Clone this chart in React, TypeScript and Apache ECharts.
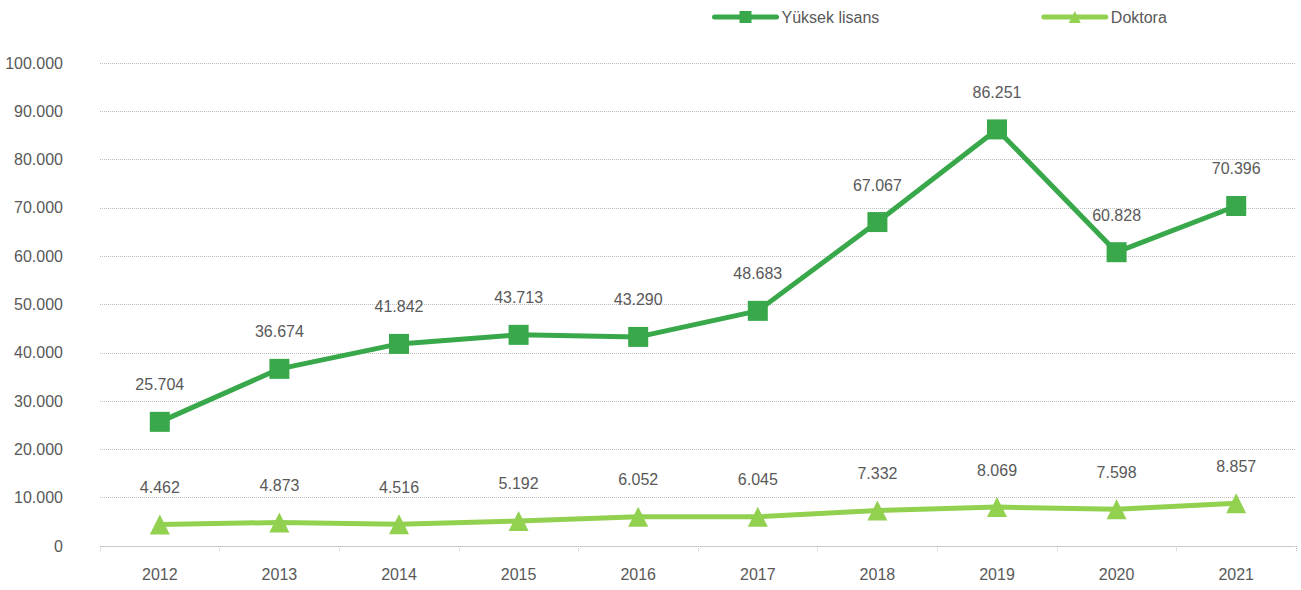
import React, { useEffect, useRef } from "react";
import * as echarts from "echarts";

const years = ["2012", "2013", "2014", "2015", "2016", "2017", "2018", "2019", "2020", "2021"];
const yuksekLisans = [25704, 36674, 41842, 43713, 43290, 48683, 67067, 86251, 60828, 70396];
const doktora = [4462, 4873, 4516, 5192, 6052, 6045, 7332, 8069, 7598, 8857];

const fmt = (v: number) => (v === 0 ? "0" : v.toLocaleString("de-DE"));
const FONT = "'Liberation Sans', Arial, sans-serif";
const TXT = "#595959";
const FS = 16;

export default function App() {
  const ref = useRef<HTMLDivElement>(null);
  useEffect(() => {
    const chart = echarts.init(ref.current!, null, { renderer: "svg" });
    chart.setOption({
      animation: false,
      textStyle: { fontFamily: FONT },
      legend: {
        left: 712,
        top: 9,
        padding: 0,
        itemWidth: 62,
        itemHeight: 15,
        itemGap: 162,
        lineStyle: { width: 5, cap: "round" },
        textStyle: { fontSize: FS, color: TXT, fontFamily: FONT },
        data: ["Yüksek lisans", "Doktora"],
      },
      grid: { left: 100, right: 5, top: 63, bottom: 44, outerBoundsMode: "none", containLabel: false },
      xAxis: {
        type: "category",
        data: years,
        boundaryGap: true,
        axisLine: { lineStyle: { color: "#BFBFBF", type: "dotted", width: 1 } },
        axisTick: { show: true, length: 6, lineStyle: { color: "#BFBFBF", type: "dotted" } },
        axisLabel: { fontSize: FS, color: TXT, margin: 20, fontFamily: FONT },
      },
      yAxis: {
        type: "value",
        min: 0,
        max: 100000,
        interval: 10000,
        axisLine: { show: false },
        axisTick: { show: false },
        splitLine: { lineStyle: { color: "#BFBFBF", type: "dotted", width: 1 } },
        axisLabel: { fontSize: FS, color: TXT, margin: 37, formatter: fmt, fontFamily: FONT },
      },
      series: [
        {
          name: "Yüksek lisans",
          type: "line",
          data: yuksekLisans,
          symbol: "rect",
          symbolSize: 20,
          lineStyle: { width: 5, color: "#38A84A" },
          itemStyle: { color: "#38A84A" },
          label: {
            show: true,
            position: "top",
            distance: 19,
            fontSize: FS,
            color: TXT,
            fontFamily: FONT,
            formatter: (p: any) => fmt(p.value),
          },
        },
        {
          name: "Doktora",
          type: "line",
          data: doktora,
          symbol: "triangle",
          symbolSize: 20,
          lineStyle: { width: 5, color: "#92D050" },
          itemStyle: { color: "#92D050" },
          label: {
            show: true,
            position: "top",
            distance: 19,
            fontSize: FS,
            color: TXT,
            fontFamily: FONT,
            formatter: (p: any) => fmt(p.value),
          },
        },
      ],
    });
    return () => chart.dispose();
  }, []);
  return <div ref={ref} style={{ width: 1301, height: 590, position: "absolute", left: 0, top: 0 }} />;
}
